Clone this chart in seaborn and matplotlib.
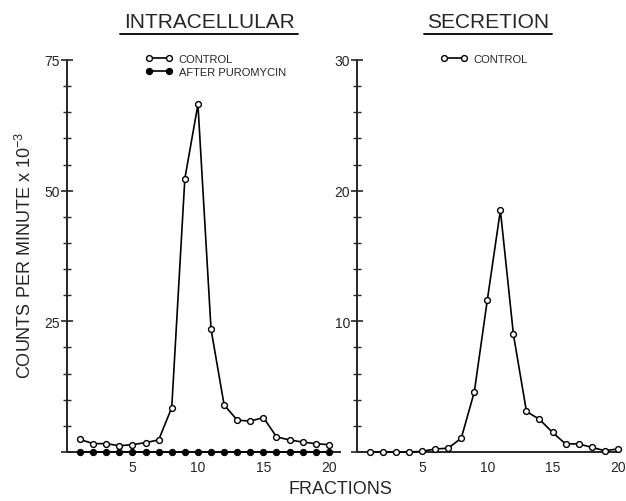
import numpy as np
import pandas as pd
import matplotlib
matplotlib.use("Agg")
import matplotlib.pyplot as plt
import seaborn as sns
from matplotlib.lines import Line2D
from matplotlib.ticker import MultipleLocator

# Data
fractions = list(range(1, 21))
intra_control = [2.4, 1.6, 1.6, 1.2, 1.4, 1.8, 2.3, 8.5, 52.3, 66.5,
                 23.5, 9.0, 6.1, 5.9, 6.6, 2.9, 2.3, 1.9, 1.6, 1.4]
intra_puromycin = [0.0] * 20
secr_control = [0.0, 0.0, 0.0, 0.0, 0.05, 0.23, 0.29, 1.06, 4.6, 11.65,
                18.5, 9.0, 3.1, 2.5, 1.5, 0.62, 0.62, 0.36, 0.1, 0.23]
x_ticks = [5, 10, 15, 20]

sns.set_style("ticks")
plt.rcParams['font.family'] = ['Liberation Sans', 'DejaVu Sans']
plt.rcParams['mathtext.default'] = 'regular'

fig = plt.figure(figsize=(6.26, 5.02), dpi=100)
ax1 = fig.add_axes([67 / 626, 49 / 502, 273 / 626, 392 / 502])
ax2 = fig.add_axes([357 / 626, 49 / 502, 262 / 626, 392 / 502])

intra = pd.DataFrame({'fraction': fractions, 'CONTROL': intra_control,
                      'AFTER PUROMYCIN': intra_puromycin})
secr = pd.DataFrame({'fraction': fractions, 'CONTROL': secr_control})

open_kw = dict(color='black', marker='o', markersize=4.2, markerfacecolor='white',
               markeredgecolor='black', markeredgewidth=1.0, linewidth=1.2)
fill_kw = dict(color='black', marker='o', markersize=4.5, markerfacecolor='black',
               markeredgecolor='black', linewidth=1.2)

sns.lineplot(data=intra, x='fraction', y='AFTER PUROMYCIN', ax=ax1,
             label='AFTER PUROMYCIN', clip_on=False, zorder=3, **fill_kw)
sns.lineplot(data=intra, x='fraction', y='CONTROL', ax=ax1,
             label='CONTROL', clip_on=False, zorder=4, **open_kw)
sns.lineplot(data=secr, x='fraction', y='CONTROL', ax=ax2,
             label='CONTROL', clip_on=False, zorder=4, **open_kw)

for ax, ymax, major, minor in [(ax1, 75, 25, 5), (ax2, 30, 10, 2)]:
    ax.set_ylim(0, ymax)
    ax.yaxis.set_major_locator(MultipleLocator(major))
    ax.yaxis.set_minor_locator(MultipleLocator(minor))
    ax.set_xticks(x_ticks)
    ax.set_xlabel('')
    ax.set_ylabel('')
    for s in ['top', 'right']:
        ax.spines[s].set_visible(False)
    ax.spines['left'].set_linewidth(1.4)
    ax.spines['bottom'].set_linewidth(1.4)
    ax.tick_params(axis='y', which='major', direction='inout', length=8,
                   width=1.2, labelsize=10, pad=1)
    ax.tick_params(axis='y', which='minor', direction='inout', length=6, width=1.0)
    ax.tick_params(axis='x', length=0, labelsize=10, pad=6)
    ax.set_yticklabels([str(int(v)) if v > 0 else '' for v in ax.get_yticks()])

ax1.set_xlim(0, 20.85)
ax2.set_xlim(0, 20.1)

# legends
h, l = ax1.get_legend_handles_labels()
ax1.legend([h[1], h[0]], [l[1], l[0]], loc='upper left', bbox_to_anchor=(0.25, 1.04),
           frameon=False, numpoints=2, handlelength=2.4, handletextpad=0.6,
           labelspacing=0.25, fontsize=8)
ax2.legend(loc='upper left', bbox_to_anchor=(0.28, 1.04), frameon=False,
           numpoints=2, handlelength=2.4, handletextpad=0.6, fontsize=8)

# titles with underline
t1 = fig.text(209 / 626, 1 - 22 / 502, 'INTRACELLULAR', ha='center', va='center', fontsize=15)
t2 = fig.text(488 / 626, 1 - 22 / 502, 'SECRETION', ha='center', va='center', fontsize=15)
fig.canvas.draw()
renderer = fig.canvas.get_renderer()
for t in (t1, t2):
    bb = t.get_window_extent(renderer).transformed(fig.transFigure.inverted())
    yl = bb.y0 - 3 / 502
    fig.add_artist(Line2D([bb.x0 - 0.005, bb.x1 + 0.005], [yl, yl],
                          transform=fig.transFigure, color='black', linewidth=1.3))

fig.text(340 / 626, 1 - 490 / 502, 'FRACTIONS', ha='center', va='center', fontsize=13)
fig.text(25 / 626, 1 - 255 / 502, 'COUNTS PER MINUTE x 10$^{-3}$', ha='center',
         va='center', rotation=90, fontsize=13)

fig.savefig('out.png', dpi=100)
